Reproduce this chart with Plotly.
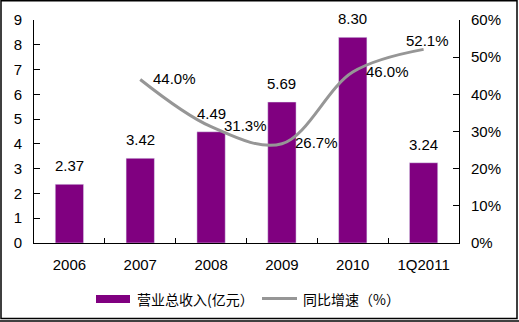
import plotly.graph_objects as go

categories = ["2006", "2007", "2008", "2009", "2010", "1Q2011"]
revenue = [2.37, 3.42, 4.49, 5.69, 8.30, 3.24]
growth_cats = ["2007", "2008", "2009", "2010", "1Q2011"]
growth = [0.440, 0.313, 0.267, 0.460, 0.521]
bar_name = "营业总收入(亿元）"
line_name = "同比增速（%）"

FONT = "Liberation Sans, Arial, Noto Sans CJK SC"
PURPLE = "#800080"
GRAY = "#969696"

fig = go.Figure()
fig.add_trace(go.Bar(
    x=categories, y=revenue, name=bar_name, marker_color=PURPLE,
    width=0.4, showlegend=False,
))
fig.add_trace(go.Scatter(
    x=growth_cats, y=growth, name=line_name, yaxis="y2", mode="lines",
    line=dict(color=GRAY, width=3, shape="spline", smoothing=1.0),
    showlegend=False,
))

annotations = []
for i, v in enumerate(revenue):
    annotations.append(dict(x=i, y=v, xref="x", yref="y", text=f"{v:.2f}",
                            showarrow=False, xanchor="center", yanchor="bottom",
                            yshift=8, font=dict(size=15, family=FONT, color="#000")))

positions = ["right", "right", "right", "right", "top"]
for c, g, p in zip(growth_cats, growth, positions):
    xi = categories.index(c)
    if p == "right":
        annotations.append(dict(x=xi, y=g, xref="x", yref="y2", text=f"{g*100:.1f}%",
                                showarrow=False, xanchor="left", yanchor="middle",
                                xshift=11, yshift=1, font=dict(size=15, family=FONT, color="#000")))
    else:
        annotations.append(dict(x=xi, y=g, xref="x", yref="y2", text=f"{g*100:.1f}%",
                                showarrow=False, xanchor="center", yanchor="bottom",
                                xshift=4, yshift=-2, font=dict(size=15, family=FONT, color="#000")))

# custom legend (paper coords; plot area px: x 34..459, y 20..243)
def px_x(p):
    return (p - 34) / 425.0

def px_y(p):
    return (243 - p) / 223.0

annotations.append(dict(x=px_x(135), y=px_y(299), xref="paper", yref="paper", text=bar_name,
                        showarrow=False, xanchor="left", yanchor="middle",
                        font=dict(size=14, family="Noto Sans CJK SC", color="#000")))
annotations.append(dict(x=px_x(301), y=px_y(299), xref="paper", yref="paper", text=line_name,
                        showarrow=False, xanchor="left", yanchor="middle",
                        font=dict(size=14, family="Noto Sans CJK SC", color="#000")))

shapes = [
    dict(type="rect", xref="paper", yref="paper", x0=px_x(96), x1=px_x(130),
         y0=px_y(303), y1=px_y(295), fillcolor=PURPLE, line=dict(width=0)),
    dict(type="line", xref="paper", yref="paper", x0=px_x(262), x1=px_x(297),
         y0=px_y(298.5), y1=px_y(298.5), line=dict(color=GRAY, width=3)),
    dict(type="rect", xref="paper", yref="paper", x0=px_x(1), x1=px_x(517),
         y0=px_y(318.5), y1=px_y(0.8), line=dict(color="#000", width=1.5), layer="below"),
    dict(type="line", xref="paper", yref="paper", x0=px_x(0), x1=px_x(519),
         y0=px_y(321), y1=px_y(321), line=dict(color="#000", width=1.5)),
]

fig.update_layout(
    width=519, height=322,
    margin=dict(l=34, r=60, t=20, b=79),
    paper_bgcolor="white", plot_bgcolor="white",
    font=dict(family=FONT, size=15, color="#000"),
    showlegend=False,
    bargap=0.6,
    xaxis=dict(type="category", categoryorder="array", categoryarray=categories,
               range=[-0.5, len(categories) - 0.5],
               showline=True, linecolor="#000", linewidth=1,
               ticks="inside", tickson="boundaries", ticklen=5, tickcolor="#000",
               tickfont=dict(size=15), showgrid=False, zeroline=False, tickangle=0,
               ticklabelstandoff=8),
    yaxis=dict(range=[0, 9], dtick=1, showline=True, linecolor="#000", linewidth=1,
               ticks="inside", ticklen=6, tickcolor="#000", showgrid=False, zeroline=False,
               tickfont=dict(size=15), ticklabelstandoff=8),
    yaxis2=dict(range=[0, 0.6], dtick=0.1, tickformat=".0%", overlaying="y", side="right",
                showline=True, linecolor="#000", linewidth=1, ticks="inside", ticklen=6,
                tickcolor="#000", showgrid=False, zeroline=False, tickfont=dict(size=15),
                ticklabelstandoff=8),
    annotations=annotations,
    shapes=shapes,
)

fig.write_html("out.html")
